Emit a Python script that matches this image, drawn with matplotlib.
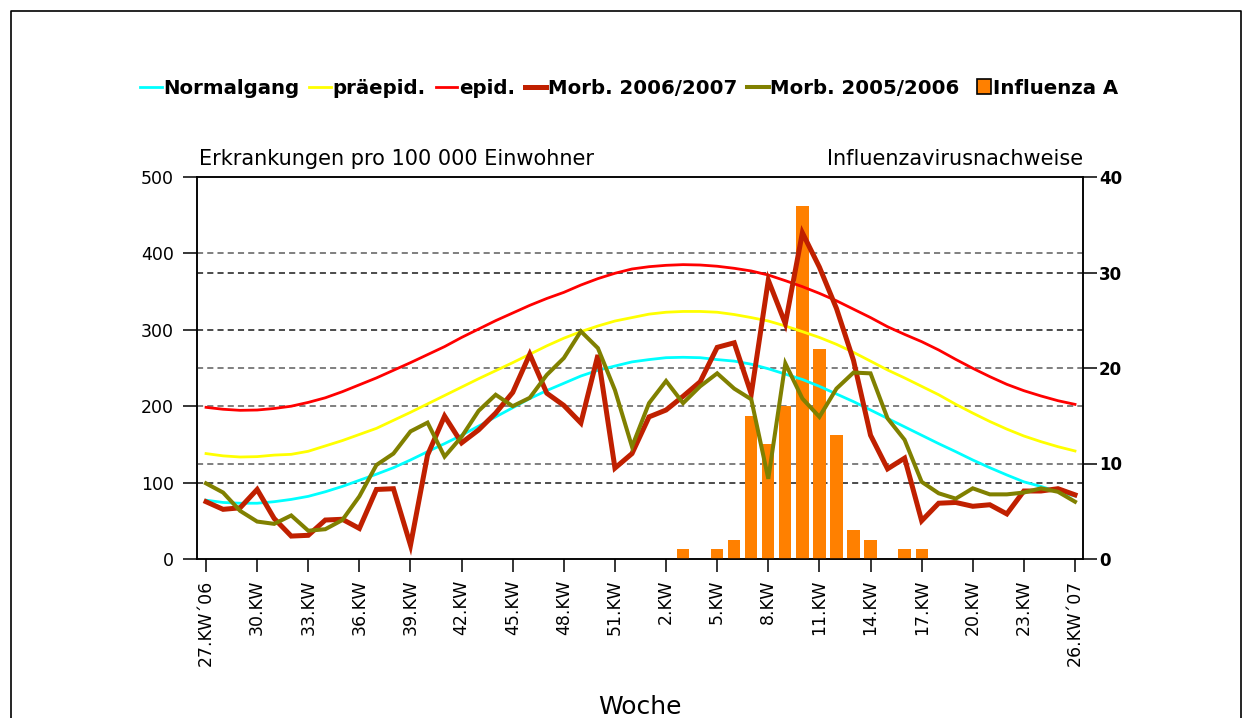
import numpy as np
import matplotlib
matplotlib.use('Agg')
import matplotlib.pyplot as plt
from matplotlib.patches import Rectangle, Patch
from matplotlib.lines import Line2D
from matplotlib.legend_handler import HandlerPatch

plt.rcParams['font.family'] = ['DejaVu Sans']

# ---------------- data ----------------
weeks = list(range(27, 53)) + list(range(1, 27))
tick_labels = ['27.KW´06', '30.KW', '33.KW', '36.KW', '39.KW', '42.KW', '45.KW',
               '48.KW', '51.KW', '2.KW', '5.KW', '8.KW', '11.KW', '14.KW',
               '17.KW', '20.KW', '23.KW', '26.KW´07']

normalgang = [77, 74, 73, 73, 75, 78, 82, 88, 95, 103, 111,
              119.5, 129.6, 140.5, 151, 162, 174, 186, 198, 210, 220.5,
              230, 239.5, 247, 252.6, 258, 261, 263.5, 264, 263.5, 261,
              259, 255, 249, 242, 235, 226, 216, 206, 195, 184,
              173, 162, 151, 140.5, 129.6, 119.5, 110, 101, 95, 88, 82.5]

praeepid = [138, 135, 133.5, 134, 136, 137, 141, 148, 155, 163, 171,
            181.5, 192, 203, 214, 225, 236, 246.5, 257, 268, 279,
            289, 297.6, 305, 311.5, 316, 320.5, 323, 324, 324, 323,
            320, 316, 311.5, 305, 297.6, 290, 281, 270.5, 259, 247.4,
            237, 226, 215, 202.5, 191, 180, 170, 161, 153.6, 147, 141.4]

epid = [198.5, 196, 194.6, 195, 197, 200, 205, 211, 219, 228, 237,
        247, 257, 267.5, 278, 290, 301, 312, 322, 332, 341,
        349, 358.6, 367, 374, 379.6, 382.6, 384.4, 385.3, 384.8, 383.2,
        380.5, 377, 371.7, 364.3, 356.5, 347.7, 338, 327, 316, 304,
        294, 284.5, 273.6, 261.3, 249.6, 238.7, 228.6, 220.3, 213.4, 207.2, 202.4]

morb_0607 = [75, 65, 67, 91, 53, 30, 31, 51, 52, 40, 91,
             92, 18, 136, 187, 152, 169, 191, 218, 268, 217,
             201, 178, 267, 119, 138, 186, 195, 213, 232, 277,
             283, 216, 365, 308, 427, 382, 328, 260, 162, 118,
             132, 50, 73, 74, 69, 71, 59, 89, 89, 92, 84]

morb_0506 = [99, 87, 63, 49, 46, 57, 37, 39, 51, 82, 123,
             138, 167, 178.5, 134, 160, 194, 215, 200, 211, 241,
             263, 298, 276, 221, 147, 204, 233, 204, 226, 243,
             223, 209, 105, 256, 210, 186, 223, 244, 243, 184,
             156, 101, 86, 79, 92.5, 84.6, 84.6, 87, 92.5, 88, 75]

influenza_a = [0] * 28 + [1, 0, 1, 2, 15, 12, 16, 37, 22, 13, 3, 2, 0, 1, 1] + [0] * 9

x = np.arange(len(weeks))

# ---------------- figure ----------------
W, H = 1247, 718
fig = plt.figure(figsize=(W / 100, H / 100), dpi=100)
L, R, T, B = 197, 1083, 177, 559
ax = fig.add_axes([L / W, 1 - B / H, (R - L) / W, (B - T) / H])
ax2 = ax.twinx()
ax3 = ax.twinx()
ax.set_zorder(1)
ax2.set_zorder(2)
ax3.set_zorder(3)
ax.patch.set_facecolor('white')
ax2.patch.set_visible(False)
ax3.patch.set_visible(False)

ax.set_xlim(-0.53, 51.47)
ax.set_ylim(0, 500)
ax3.set_ylim(0, 500)
ax2.set_ylim(0, 40)

ax.set_yticks(range(0, 501, 100))
ax2.set_yticks(range(0, 41, 10))
ax.set_xticks(x[::3])
ax.set_xticklabels(tick_labels, rotation=90)

dash = (0, (4.0, 2.7))
grey, black = '#5c5c5c', '#1a1a1a'
ax.yaxis.grid(True, linestyle=dash, linewidth=1.1)
for gl, v in zip(ax.get_ygridlines(), ax.get_yticks()):
    if v in (0, 500):
        gl.set_visible(False)
    elif v in (400, 200):
        gl.set_color(grey)
    else:
        gl.set_color(black)
ax2.set_axisbelow(True)
ax2.yaxis.grid(True, linestyle=dash, linewidth=1.1)
for gl, v in zip(ax2.get_ygridlines(), ax2.get_yticks()):
    if v in (0, 40):
        gl.set_visible(False)
    elif v == 30:
        gl.set_color(black)
    else:
        gl.set_color(grey)

# bars
ax2.bar(x, influenza_a, width=0.72, color='#FF8000', linewidth=0, zorder=2)

# lines
l1, = ax3.plot(x, normalgang, color='#00FFFF', lw=2.0)
l2, = ax3.plot(x, praeepid, color='#FFFF00', lw=2.0)
l3, = ax3.plot(x, epid, color='#FF0000', lw=2.0)
l4, = ax3.plot(x, morb_0607, color='#C02000', lw=3.6, solid_joinstyle='miter')
l5, = ax3.plot(x, morb_0506, color='#808000', lw=2.9, solid_joinstyle='miter')
ax3.set_yticks([])
ax3.tick_params(right=False, labelright=False)
for s in ax3.spines.values():
    s.set_visible(False)

# axes styling
for a in (ax, ax2):
    for s in a.spines.values():
        s.set_linewidth(1.1)
        s.set_color('black')
ax.tick_params(axis='y', direction='out', length=10, width=1.1, pad=6.5, labelsize=12.5)
ax.tick_params(axis='x', direction='out', length=9.5, width=1.1, pad=5.5, labelsize=12.5)
ax2.tick_params(axis='y', direction='out', length=10, width=1.1, pad=1.5, labelsize=12)
for t in ax2.get_yticklabels():
    t.set_fontweight('bold')

# header texts
fig.text(199 / W, 1 - 165 / H, 'Erkrankungen pro 100 000 Einwohner', fontsize=15,
         ha='left', va='baseline')
fig.text(R / W, 1 - 165 / H, 'Influenzavirusnachweise', fontsize=15,
         ha='right', va='baseline')
fig.text(640 / W, 1 - 714 / H, 'Woche', fontsize=18, ha='center', va='baseline')


# legend
class SquareHandler(HandlerPatch):
    def create_artists(self, legend, orig_handle, xdescent, ydescent, width,
                       height, fontsize, trans):
        s = 0.74 * fontsize
        x0 = -xdescent + width - s
        y0 = -ydescent + (height - s) / 2
        p = Rectangle((x0, y0), s, s, facecolor=orig_handle.get_facecolor(),
                      edgecolor='black', lw=1.2, transform=trans)
        return [p]


proxy = Patch(facecolor='#FF8000', edgecolor='black')
handles = [l1, l2, l3, l4, l5, proxy]
labels = ['Normalgang', 'präepid.', 'epid.', 'Morb. 2006/2007', 'Morb. 2005/2006',
          'Influenza A']
fig.legend(handles, labels, loc='center', bbox_to_anchor=(629 / W, 1 - 88 / H),
           ncol=6, frameon=False, prop={'weight': 'bold', 'size': 14.2},
           handlelength=1.1, handletextpad=0.08, columnspacing=0.5,
           borderaxespad=0, borderpad=0,
           handler_map={Patch: SquareHandler()})

# outer frame
fig.add_artist(Line2D([11 / W, 11 / W, 1241 / W, 1241 / W],
                      [0, 1 - 11 / H, 1 - 11 / H, 0],
                      transform=fig.transFigure, color='black', lw=1.2))

fig.savefig('out.png', dpi=100)
